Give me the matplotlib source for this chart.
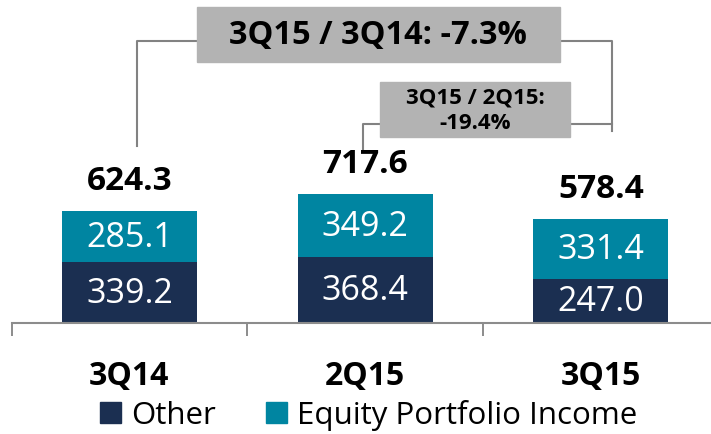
import matplotlib
matplotlib.use("Agg")
import matplotlib.pyplot as plt
from matplotlib.patches import Patch, Rectangle

plt.rcParams['font.family'] = ['Open Sans', 'DejaVu Sans']

# ── data ────────────────────────────────────────────────
quarters = ["3Q14", "2Q15", "3Q15"]
other = [339.2, 368.4, 247.0]
equity = [285.1, 349.2, 331.4]
totals = [624.3, 717.6, 578.4]
yoy_text = "3Q15 / 3Q14: -7.3%"
qoq_text = "3Q15 / 2Q15:\n-19.4%"
# ────────────────────────────────────────────────────────

NAVY = "#1B2F51"
TEAL = "#0085A1"
BOX = "#B3B3B3"
LINE = "#828282"

fig = plt.figure(figsize=(7.11, 4.35), dpi=100)
ax = fig.add_axes([0, 0, 1, 1])
ax.set_xlim(-0.549, 2.467)
ax.set_ylim(-618.7, 1806)

x = list(range(len(quarters)))
b1 = ax.bar(x, other, width=0.573, color=NAVY, zorder=2)
b2 = ax.bar(x, equity, width=0.573, bottom=other, color=TEAL, zorder=2)
ax.bar_label(b1, fmt="%.1f", label_type="center", color="white", fontsize=24.5)
ax.bar_label(b2, fmt="%.1f", label_type="center", color="white", fontsize=24.5)

for i, t in enumerate(totals):
    ax.text(i, t + 123, f"{t:.1f}", ha="center", va="baseline",
            fontsize=24, fontweight="bold")

for i, q in enumerate(quarters):
    ax.text(i, -340, q, ha="center", va="baseline", fontsize=23, fontweight="bold")

# axis line with boundary ticks
for s in ["left", "right", "top"]:
    ax.spines[s].set_visible(False)
ax.spines["bottom"].set_position(("data", 0))
ax.spines["bottom"].set_bounds(-0.5, 2.5)
ax.spines["bottom"].set_color("#8C8C8C")
ax.spines["bottom"].set_linewidth(1.5)
ax.spines["bottom"].set_zorder(3)
ax.set_xticks([-0.5, 0.5, 1.5])
ax.set_xticklabels([])
ax.tick_params(axis="x", direction="out", length=9.4, width=1.4, color="#8C8C8C")
ax.set_yticks([])

# growth brackets
ax.plot([0.032, 0.032, 2.047, 2.047], [987, 1572, 1572, 1070], color=LINE, lw=1.5, zorder=1)
ax.plot([0.99, 0.99, 2.047], [970, 1109, 1109], color=LINE, lw=1.5, zorder=1)
ax.add_patch(Rectangle((0.286, 1455), 1.826 - 0.286, 1761 - 1455, color=BOX, zorder=2))
ax.add_patch(Rectangle((1.063, 1037), 1.868 - 1.063, 1343 - 1037, color=BOX, zorder=2))
ax.text((0.286 + 1.826) / 2, 1608, yoy_text, ha="center", va="center",
        fontsize=23.5, fontweight="bold", zorder=3)
ax.text((1.063 + 1.868) / 2, 1190, qoq_text, ha="center", va="center",
        fontsize=16, fontweight="bold", linespacing=1.3, zorder=3)

handles = [Patch(color=NAVY, label="Other"), Patch(color=TEAL, label="Equity Portfolio Income")]
fig.legend(handles=handles, loc="center", bbox_to_anchor=(368.5 / 711, 1 - 416 / 435),
           ncol=2, frameon=False, fontsize=22.5, handlelength=0.68, handleheight=0.65,
           handletextpad=0.32, columnspacing=1.6, borderpad=0, borderaxespad=0)

fig.savefig("out.png", dpi=100)
